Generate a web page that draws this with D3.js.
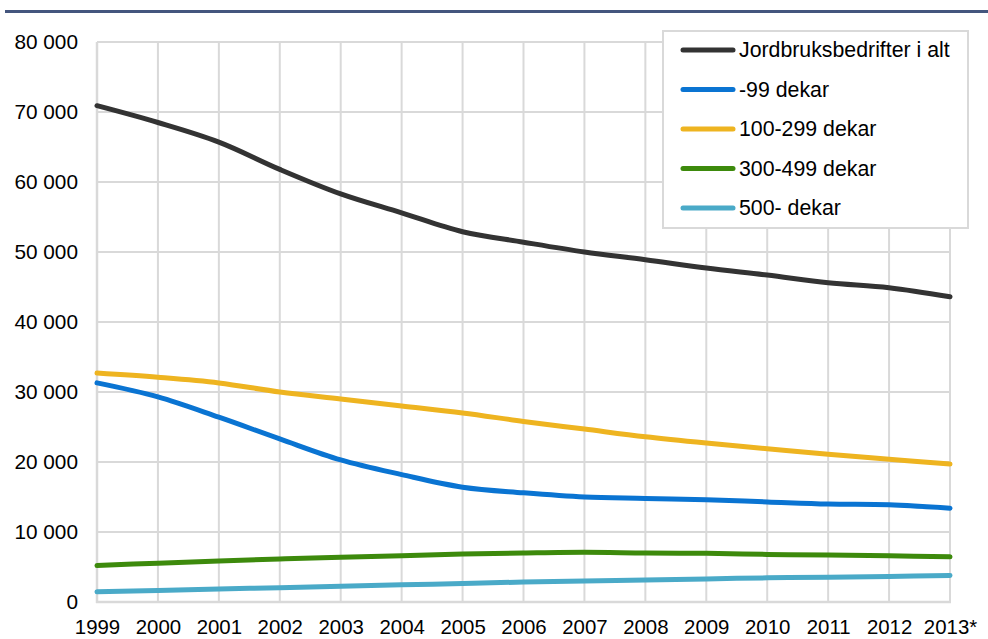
<!DOCTYPE html>
<html>
<head>
<meta charset="utf-8">
<script src="https://cdn.jsdelivr.net/npm/d3@7/dist/d3.min.js"></script>
<style>
  html, body { margin: 0; padding: 0; background: #ffffff; }
  svg { display: block; font-family: "Liberation Sans", Arial, sans-serif; }
</style>
</head>
<body>
<svg id="chart" width="988" height="639"></svg>
<script>
// Years on the x axis (2013 is preliminary)
const years = ["1999","2000","2001","2002","2003","2004","2005","2006","2007","2008","2009","2010","2011","2012","2013*"];

// Number of agricultural holdings by size of agricultural area in use
const totalHoldings = [70900, 68500, 65700, 61800, 58300, 55600, 52900, 51400, 50000, 48900, 47700, 46700, 45600, 44900, 43600];
const under100      = [31300, 29300, 26400, 23300, 20300, 18200, 16400, 15600, 15000, 14800, 14600, 14300, 14000, 13900, 13400];
const from100to299  = [32700, 32100, 31300, 30000, 29000, 28000, 27000, 25800, 24700, 23600, 22700, 21900, 21100, 20400, 19700];
const from300to499  = [5200, 5550, 5850, 6150, 6400, 6600, 6850, 7000, 7100, 7000, 6950, 6800, 6700, 6600, 6450];
const from500       = [1450, 1650, 1850, 2050, 2250, 2450, 2650, 2850, 3000, 3150, 3300, 3450, 3550, 3650, 3800];

const seriesNames  = ["Jordbruksbedrifter i alt", "-99 dekar", "100-299 dekar", "300-499 dekar", "500- dekar"];
const seriesValues = [totalHoldings, under100, from100to299, from300to499, from500];
const seriesColors = ["#333333", "#0a74d2", "#eeb420", "#3d8a0c", "#4aaac8"];

const yTicks = [0, 10000, 20000, 30000, 40000, 50000, 60000, 70000, 80000];

const svg = d3.select("#chart");
const W = 988, H = 639;
const margin = { left: 97, right: 38, top: 42, bottom: 37 };

const x = d3.scalePoint().domain(years).range([margin.left, W - margin.right]);
const y = d3.scaleLinear().domain([0, 80000]).range([H - margin.bottom, margin.top]);

const fmt = v => d3.format(",")(v).replace(/,/g, " ");

// Header rule
svg.append("rect")
  .attr("x", 5).attr("y", 10).attr("width", W - 5).attr("height", 3)
  .attr("fill", "#44567e");

const grid = svg.append("g");

// Horizontal gridlines
grid.selectAll("line.h").data(yTicks).join("line")
  .attr("class", "h")
  .attr("x1", x(years[0])).attr("x2", x(years[years.length - 1]))
  .attr("y1", d => y(d)).attr("y2", d => y(d))
  .attr("stroke", "#d9d9d9").attr("stroke-width", 2);

// Vertical gridlines
grid.selectAll("line.v").data(years).join("line")
  .attr("class", "v")
  .attr("x1", d => x(d)).attr("x2", d => x(d))
  .attr("y1", y(80000)).attr("y2", y(0))
  .attr("stroke", "#d9d9d9").attr("stroke-width", 2);

// Axis lines
svg.append("line")
  .attr("x1", x(years[0])).attr("x2", x(years[0]))
  .attr("y1", y(80000)).attr("y2", y(0) + 1)
  .attr("stroke", "#d9d9d9").attr("stroke-width", 2.5);
svg.append("line")
  .attr("x1", x(years[0]) - 1).attr("x2", x(years[years.length - 1]) + 1)
  .attr("y1", y(0)).attr("y2", y(0))
  .attr("stroke", "#d9d9d9").attr("stroke-width", 2.5);

// Y axis labels
const yAxis = d3.axisLeft(y).tickValues(yTicks).tickFormat(fmt).tickSize(0).tickPadding(19);
const gy = svg.append("g").attr("transform", `translate(${x(years[0])},0)`).call(yAxis);
gy.select(".domain").remove();
gy.selectAll("text").attr("font-size", 20.8).attr("fill", "#000").attr("font-family", "Liberation Sans, Arial, sans-serif");

// X axis labels
const xAxis = d3.axisBottom(x).tickSize(0).tickPadding(18);
const gx = svg.append("g").attr("transform", `translate(0,${y(0)})`).call(xAxis);
gx.select(".domain").remove();
gx.selectAll("text").attr("font-size", 20.4).attr("fill", "#000").attr("font-family", "Liberation Sans, Arial, sans-serif");

// Series lines
const line = d3.line()
  .x((d, i) => x(years[i]))
  .y(d => y(d))
  .curve(d3.curveCatmullRom.alpha(0.5));

svg.append("g").selectAll("path").data(seriesValues).join("path")
  .attr("d", d => line(d))
  .attr("fill", "none")
  .attr("stroke", (d, i) => seriesColors[i])
  .attr("stroke-width", 5)
  .attr("stroke-linecap", "round")
  .attr("stroke-linejoin", "round");

// Legend
const legend = svg.append("g");
legend.append("rect")
  .attr("x", 663).attr("y", 31).attr("width", 305).attr("height", 197)
  .attr("fill", "#ffffff").attr("stroke", "#d9d9d9").attr("stroke-width", 2);

const items = legend.selectAll("g.item").data(seriesNames).join("g")
  .attr("class", "item")
  .attr("transform", (d, i) => `translate(0,${50 + i * 39.5})`);
items.append("line")
  .attr("x1", 683).attr("x2", 733).attr("y1", 0).attr("y2", 0)
  .attr("stroke", (d, i) => seriesColors[i])
  .attr("stroke-width", 5).attr("stroke-linecap", "round");
items.append("text")
  .attr("x", 739).attr("y", 0).attr("dy", "0.35em")
  .attr("font-size", 21.3).attr("fill", "#000")
  .text(d => d);
</script>
</body>
</html>
